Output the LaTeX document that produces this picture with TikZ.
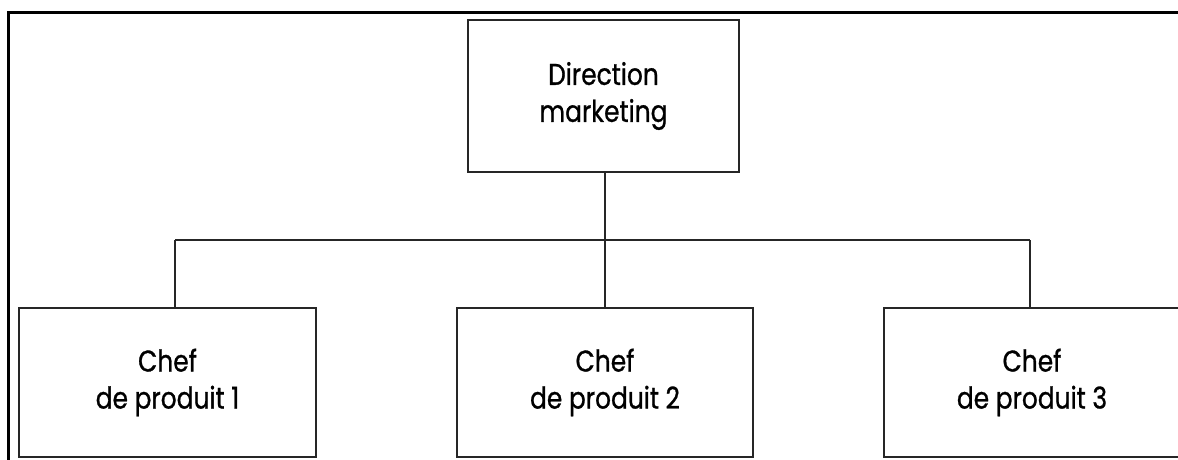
\documentclass[tikz,border=0pt]{standalone}
\usepackage{fontspec}
\setmainfont{Poppins}[FakeBold=0.9,FakeStretch=0.83]
\begin{document}
\begin{tikzpicture}[x=1pt,y=1pt,
  unit/.style={draw=black!85, line width=1.4pt, rectangle, inner sep=0pt,
    align=center, font=\fontsize{30}{37}\selectfont},
  link/.style={draw=black!85, line width=1.4pt},
  frame/.style={draw=black, line width=3pt}]
  \useasboundingbox (0,0) rectangle (1178,459);
  \clip (0,0) rectangle (1178,459);

  % boxes of the organisation chart
  \node[unit, minimum width=271pt, minimum height=152pt] (dir) at (603.5,363) {Direction\\marketing};
  \node[unit, minimum width=297pt, minimum height=149pt] (cp1) at (167.5,76.5) {Chef\\de produit 1};
  \node[unit, minimum width=296pt, minimum height=149pt] (cp2) at (605,76.5) {Chef\\de produit 2};
  \node[unit, minimum width=296pt, minimum height=149pt] (cp3) at (1032,76.5) {Chef\\de produit 3};

  % branching points on the horizontal bar
  \coordinate (b1) at (175,219);
  \coordinate (b2) at (605,219);
  \coordinate (b3) at (1030,219);

  \draw[link] (dir.south -| b2) -- (b2);
  \draw[link] (b1) -- (b3);
  \draw[link] (b1) -- (b1 |- cp1.north);
  \draw[link] (b2) -- (b2 |- cp2.north);
  \draw[link] (b3) -- (b3 |- cp3.north);

  % outer frame, top and left sides
  \draw[frame] (8,-5) -- (8,446) -- (1185,446);
\end{tikzpicture}
\end{document}
